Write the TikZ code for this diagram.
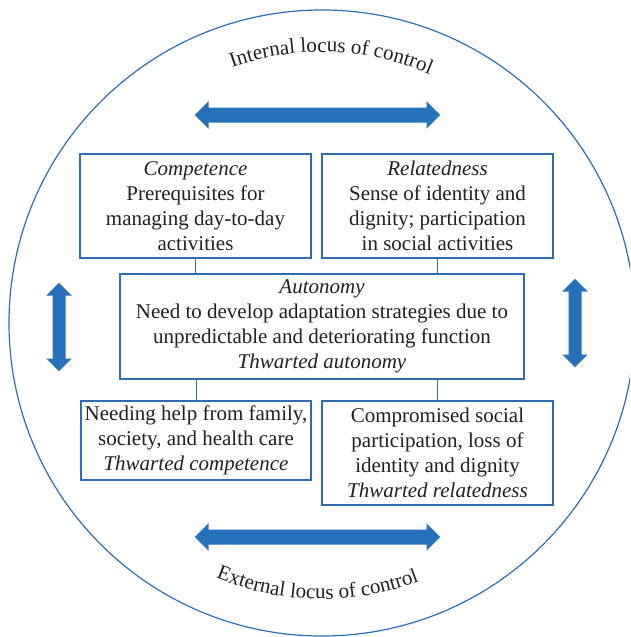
\documentclass[tikz,border=0pt]{standalone}
\usepackage{fontspec}
\setmainfont{Liberation Serif}
\usetikzlibrary{shapes.arrows,decorations.text}

\definecolor{boxblue}{HTML}{2F6DB3}
\definecolor{arrowblue}{HTML}{2570B8}
\definecolor{inktext}{HTML}{231F20}

\tikzset{
  need/.style={draw=boxblue, line width=1.2pt, text=inktext, align=center,
    inner sep=1pt, font=\fontsize{21}{25}\selectfont},
  link/.style={draw=boxblue, line width=1pt},
  twoway/.style={double arrow, fill=arrowblue, draw=arrowblue!80!white,
    line width=0.5pt, double arrow tip angle=90, inner xsep=0pt},
  locus/.style={decorate, decoration={text along path, text align=center,
    text color=inktext, text={|\fontsize{21}{25}\selectfont|#1}}}
}

\begin{document}
\begin{tikzpicture}[x=1pt,y=1pt]
  \clip (0,0) rectangle (630,-637);

  % Outer circle
  \coordinate (o) at (322,-323);
  \draw[boxblue, line width=1.2pt] (o) circle[radius=313];

  % Curved labels
  \path[locus={Internal locus of control}] (o) ++(130:271) arc[start angle=130, end angle=46, radius=271];
  \path[locus={External locus of control}] (o) ++(227:276) arc[start angle=227, end angle=311, radius=276];

  % Boxes with manual coordinates
  \node[need, minimum width=231pt, minimum height=104pt] (comp) at (195.5,-206)
    {\textit{Competence}\\Prerequisites for\\managing day-to-day\\activities};
  \node[need, minimum width=231pt, minimum height=104pt] (rel) at (437.5,-206)
    {\textit{Relatedness}\\Sense of identity and\\dignity; participation\\in social activities};
  \node[need, minimum width=404pt, minimum height=105pt] (auto) at (322,-326.5)
    {\textit{Autonomy}\\Need to develop adaptation strategies due to\\unpredictable and deteriorating function\\\textit{Thwarted autonomy}};
  \node[need, minimum width=230pt, minimum height=79pt] (help) at (196,-440.5)
    {Needing help from family,\\society, and health care\\\textit{Thwarted competence}};
  \node[need, minimum width=231pt, minimum height=104pt] (social) at (437.5,-453)
    {Compromised social\\participation, loss of\\identity and dignity\\\textit{Thwarted relatedness}};

  % Links
  \draw[link] (comp.south) -- (comp.south |- auto.north);
  \draw[link] (rel.south) -- (rel.south |- auto.north);
  \draw[link] (help.north) -- (help.north |- auto.south);
  \draw[link] (social.north) -- (social.north |- auto.south);

  % Two-way arrows
  \node[twoway, inner ysep=7pt, minimum height=245pt, minimum width=26pt, double arrow head extend=6pt] (inner) at (317.5,-115) {};
  \node[twoway, inner ysep=7pt, minimum height=245pt, minimum width=26pt, double arrow head extend=6pt] (outer) at (317.5,-537) {};
  \node[twoway, rotate=90, inner ysep=6pt, minimum height=88pt, minimum width=24pt, double arrow head extend=6pt] (west) at (59,-327) {};
  \node[twoway, rotate=90, inner ysep=6pt, minimum height=88pt, minimum width=24pt, double arrow head extend=6pt] (east) at (575,-323) {};
\end{tikzpicture}
\end{document}
